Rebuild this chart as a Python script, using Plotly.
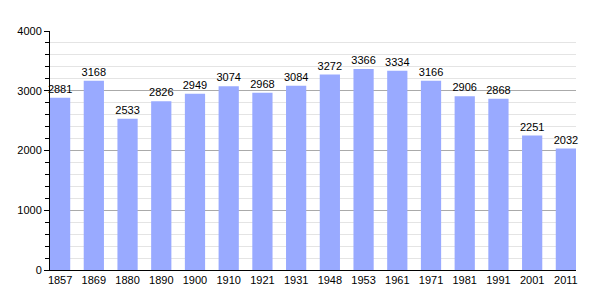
import plotly.graph_objects as go

years = ["1857", "1869", "1880", "1890", "1900", "1910", "1921", "1931", "1948",
         "1953", "1961", "1971", "1981", "1991", "2001", "2011"]
population = [2881, 3168, 2533, 2826, 2949, 3074, 2968, 3084, 3272,
              3366, 3334, 3166, 2906, 2868, 2251, 2032]

fig = go.Figure()
fig.add_trace(go.Bar(
    x=list(range(len(years))), y=population,
    marker=dict(color="#99aaff", line=dict(width=0)),
    text=[str(v) for v in population], textposition="outside",
    textfont=dict(size=11, color="black"), cliponaxis=False,
    constraintext="none",
    width=0.6,
))
fig.update_layout(
    width=605, height=300,
    margin=dict(l=50, r=29, t=31, b=30),
    plot_bgcolor="white", paper_bgcolor="white",
    font=dict(family="Liberation Sans, Arial, sans-serif", size=11, color="black"),
    showlegend=False,
)
fig.update_xaxes(
    tickmode="array", tickvals=list(range(len(years))), ticktext=years,
    range=[-0.3, len(years) - 0.7],
    showline=True, linecolor="black", linewidth=1, showgrid=False,
    ticks="", tickfont=dict(size=11),
)
fig.update_yaxes(
    range=[0, 4000], tickvals=[0, 1000, 2000, 3000, 4000],
    showline=True, linecolor="black", linewidth=1,
    gridcolor="#aaaaaa", gridwidth=1,
    ticks="outside", ticklen=5, tickcolor="black", tickwidth=1,
    minor=dict(dtick=200, showgrid=True, gridcolor="#e4e4e4", gridwidth=1,
               ticks="outside", ticklen=4, tickcolor="black", tickwidth=1),
    zeroline=False, tickfont=dict(size=11),
)
fig.write_html("out.html")
